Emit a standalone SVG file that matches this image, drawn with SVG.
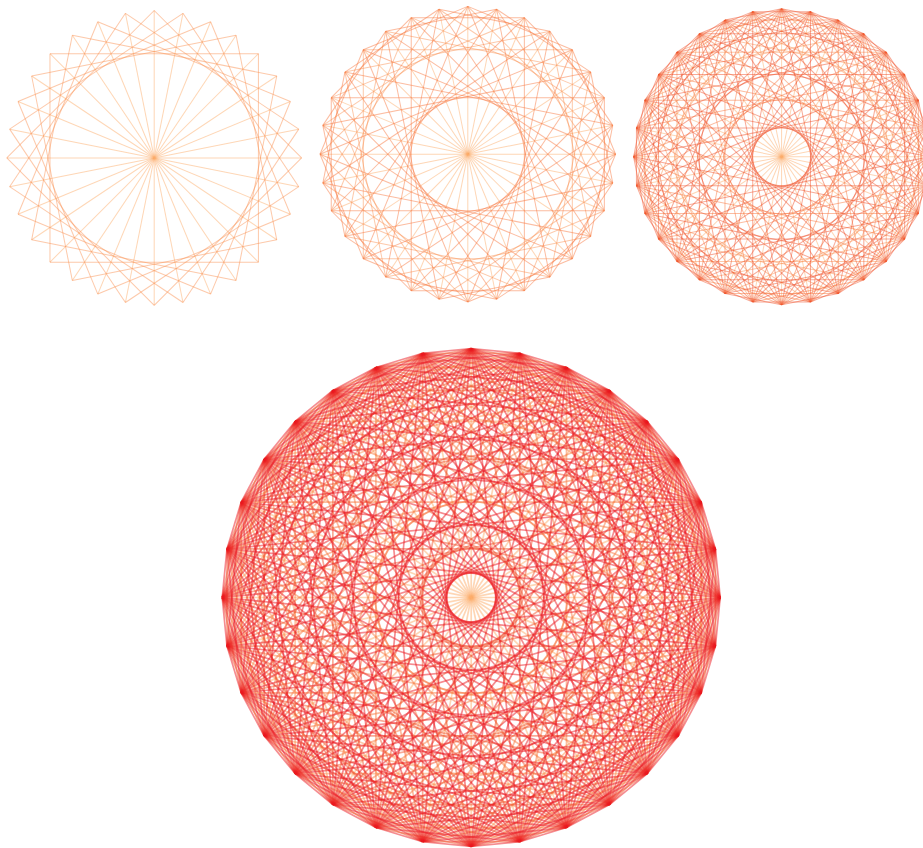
<svg xmlns="http://www.w3.org/2000/svg" xmlns:xlink="http://www.w3.org/1999/xlink" width="923" height="848" viewBox="0 0 923 848">
<style>
.fig{fill:none;stroke-opacity:0.5;stroke-width:0.68}
.l0{stroke:#fdae6b}
.l1{stroke:#fc9355}
.l2{stroke:#f97a42}
.l3{stroke:#f25530}
.l4{stroke:#ec1a22}
</style>
<defs>
<line id="k1" x1="0" y1="-100" x2="19.509" y2="-98.079"/>
<line id="k2" x1="0" y1="-100" x2="38.268" y2="-92.388"/>
<line id="k3" x1="0" y1="-100" x2="55.557" y2="-83.147"/>
<line id="k4" x1="0" y1="-100" x2="70.711" y2="-70.711"/>
<line id="k5" x1="0" y1="-100" x2="83.147" y2="-55.557"/>
<line id="k6" x1="0" y1="-100" x2="92.388" y2="-38.268"/>
<line id="k7" x1="0" y1="-100" x2="98.079" y2="-19.509"/>
<line id="k8" x1="0" y1="-100" x2="100" y2="0"/>
<line id="k9" x1="0" y1="-100" x2="98.079" y2="19.509"/>
<line id="k10" x1="0" y1="-100" x2="92.388" y2="38.268"/>
<line id="k11" x1="0" y1="-100" x2="83.147" y2="55.557"/>
<line id="k12" x1="0" y1="-100" x2="70.711" y2="70.711"/>
<line id="k13" x1="0" y1="-100" x2="55.557" y2="83.147"/>
<line id="k14" x1="0" y1="-100" x2="38.268" y2="92.388"/>
<line id="k15" x1="0" y1="-100" x2="19.509" y2="98.079"/>
<line id="k16" x1="0" y1="-100" x2="0" y2="100"/>

<!-- level 0: diameters, 16 copies -->
<g id="L0b"><use xlink:href="#k16"/><use xlink:href="#k16" transform="rotate(11.25)"/></g>
<g id="L0c"><use xlink:href="#L0b"/><use xlink:href="#L0b" transform="rotate(22.5)"/></g>
<g id="L0d"><use xlink:href="#L0c"/><use xlink:href="#L0c" transform="rotate(45)"/></g>
<g id="L0"><use xlink:href="#L0d"/><use xlink:href="#L0d" transform="rotate(90)"/></g>

<!-- level 1: skip 8 -->
<g id="L1b"><use xlink:href="#k8"/><use xlink:href="#k8" transform="rotate(11.25)"/></g>
<g id="L1c"><use xlink:href="#L1b"/><use xlink:href="#L1b" transform="rotate(22.5)"/></g>
<g id="L1d"><use xlink:href="#L1c"/><use xlink:href="#L1c" transform="rotate(45)"/></g>
<g id="L1e"><use xlink:href="#L1d"/><use xlink:href="#L1d" transform="rotate(90)"/></g>
<g id="L1"><use xlink:href="#L1e"/><use xlink:href="#L1e" transform="rotate(180)"/></g>

<!-- level 2: skips 4, 12 -->
<g id="L2a"><use xlink:href="#k4"/><use xlink:href="#k12"/></g>
<g id="L2b"><use xlink:href="#L2a"/><use xlink:href="#L2a" transform="rotate(11.25)"/></g>
<g id="L2c"><use xlink:href="#L2b"/><use xlink:href="#L2b" transform="rotate(22.5)"/></g>
<g id="L2d"><use xlink:href="#L2c"/><use xlink:href="#L2c" transform="rotate(45)"/></g>
<g id="L2e"><use xlink:href="#L2d"/><use xlink:href="#L2d" transform="rotate(90)"/></g>
<g id="L2"><use xlink:href="#L2e"/><use xlink:href="#L2e" transform="rotate(180)"/></g>

<!-- level 3: skips 2, 6, 10, 14 -->
<g id="L3a"><use xlink:href="#k2"/><use xlink:href="#k6"/><use xlink:href="#k10"/><use xlink:href="#k14"/></g>
<g id="L3b"><use xlink:href="#L3a"/><use xlink:href="#L3a" transform="rotate(11.25)"/></g>
<g id="L3c"><use xlink:href="#L3b"/><use xlink:href="#L3b" transform="rotate(22.5)"/></g>
<g id="L3d"><use xlink:href="#L3c"/><use xlink:href="#L3c" transform="rotate(45)"/></g>
<g id="L3e"><use xlink:href="#L3d"/><use xlink:href="#L3d" transform="rotate(90)"/></g>
<g id="L3"><use xlink:href="#L3e"/><use xlink:href="#L3e" transform="rotate(180)"/></g>

<!-- level 4: odd skips -->
<g id="L4a"><use xlink:href="#k1"/><use xlink:href="#k3"/><use xlink:href="#k5"/><use xlink:href="#k7"/><use xlink:href="#k9"/><use xlink:href="#k11"/><use xlink:href="#k13"/><use xlink:href="#k15"/></g>
<g id="L4b"><use xlink:href="#L4a"/><use xlink:href="#L4a" transform="rotate(11.25)"/></g>
<g id="L4c"><use xlink:href="#L4b"/><use xlink:href="#L4b" transform="rotate(22.5)"/></g>
<g id="L4d"><use xlink:href="#L4c"/><use xlink:href="#L4c" transform="rotate(45)"/></g>
<g id="L4e"><use xlink:href="#L4d"/><use xlink:href="#L4d" transform="rotate(90)"/></g>
<g id="L4"><use xlink:href="#L4e"/><use xlink:href="#L4e" transform="rotate(180)"/></g>
</defs>

<g id="fig1" class="fig" transform="translate(154.2,157.9) scale(1.474)">
<use xlink:href="#L0" class="l0"/>
<use xlink:href="#L1" class="l1"/>
</g>
<g id="fig2" class="fig" transform="translate(467.8,154.2) scale(1.478)">
<use xlink:href="#L0" class="l0"/>
<use xlink:href="#L1" class="l1"/>
<use xlink:href="#L2" class="l2"/>
</g>
<g id="fig3" class="fig" transform="translate(781.6,156.8) scale(1.48)">
<use xlink:href="#L0" class="l0"/>
<use xlink:href="#L1" class="l1"/>
<use xlink:href="#L2" class="l2"/>
<use xlink:href="#L3" class="l3"/>
</g>
<g id="fig4" class="fig" transform="translate(471.2,597.5) scale(2.49)">
<use xlink:href="#L0" class="l0"/>
<use xlink:href="#L1" class="l1"/>
<use xlink:href="#L2" class="l2"/>
<use xlink:href="#L3" class="l3"/>
<use xlink:href="#L4" class="l4"/>
</g>
</svg>
